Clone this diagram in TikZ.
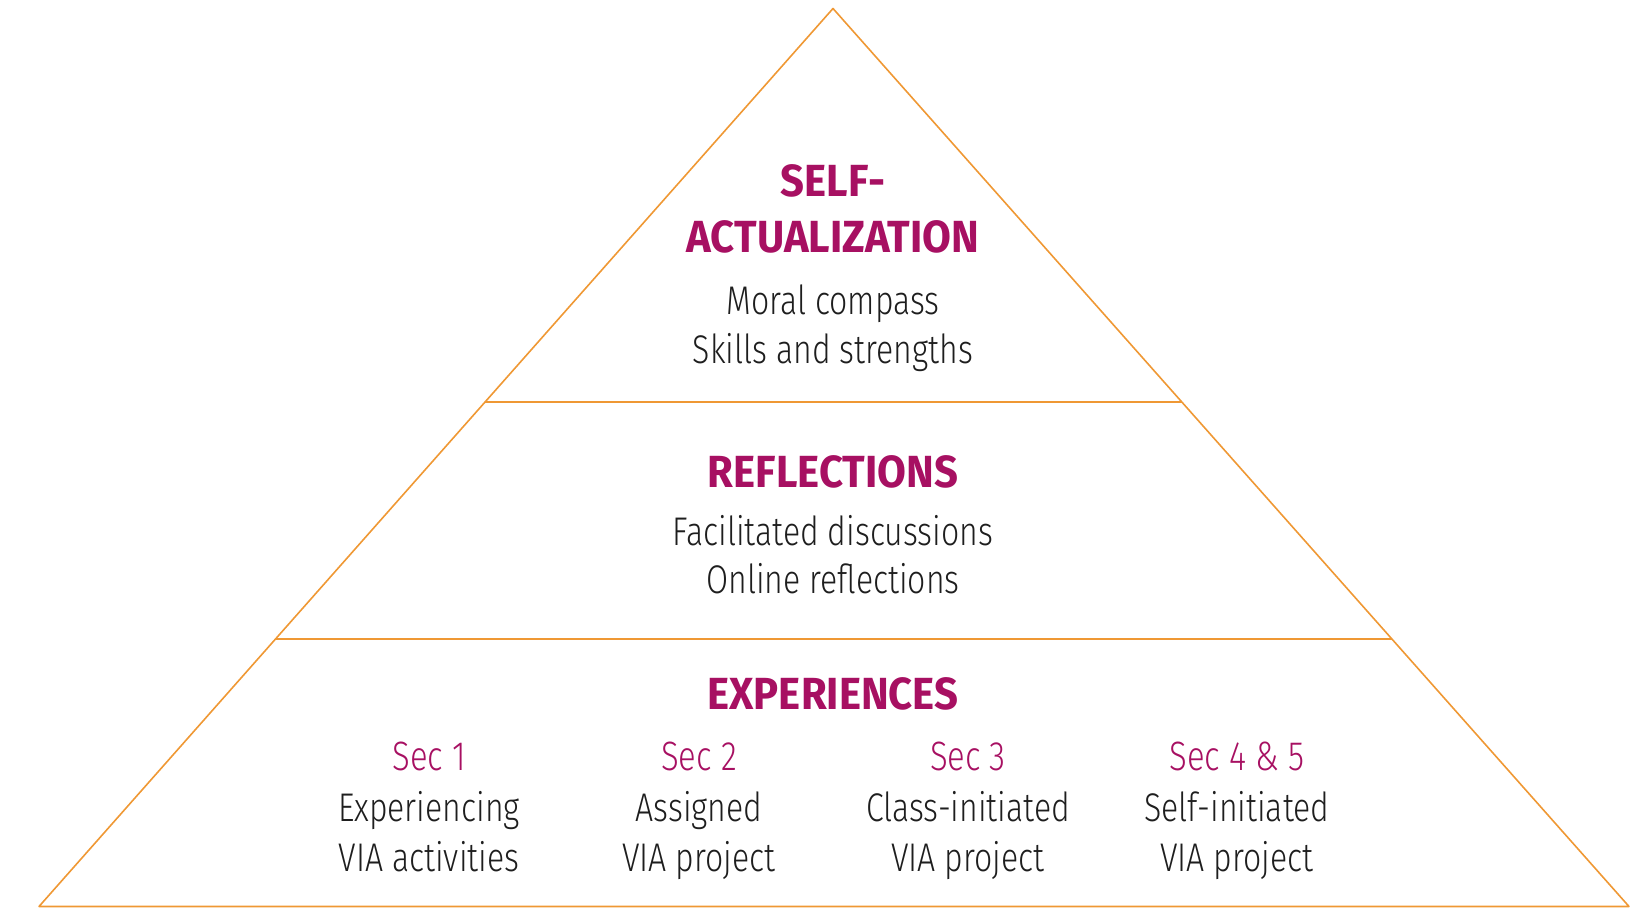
\documentclass[tikz,border=0pt]{standalone}
\usepackage{fontspec}
\setmainfont{Fira Sans}[FakeStretch=0.8, UprightFont=* Light]
\newfontfamily\headfont{Fira Sans}[FakeStretch=0.93]
\usetikzlibrary{calc}

\definecolor{pyrorange}{RGB}{239,152,52}
\definecolor{pyrmagenta}{RGB}{167,16,98}
\definecolor{pyrtext}{RGB}{30,30,30}

\tikzset{
	pyramid/.style = {
		x = 1pt,
		y = -1pt,
		edge/.style = {
			draw = pyrorange,
			line width = 1.6pt,
			line join = round,
		}
	},
	levelname/.style = {
		anchor = base,
		inner sep = 0pt,
		text = pyrmagenta,
		font = \headfont\bfseries\fontsize{45}{54}\selectfont
	},
	secname/.style = {
		anchor = base,
		inner sep = 0pt,
		text = pyrmagenta,
		font = \fontsize{41}{50}\selectfont
	},
	detail/.style = {
		anchor = base,
		inner sep = 0pt,
		text = pyrtext,
		font = \fontsize{40}{50}\selectfont
	}
}

\begin{document}
\begin{tikzpicture}[pyramid]
	\useasboundingbox (0,0) rectangle (1631,909);

	% outline and the two dividers
	\coordinate (top) at (833,8.5);
	\coordinate (bl) at (39,906.5);
	\coordinate (br) at (1629,906.5);
	\coordinate (upperL) at ($(top)!0.4379!(bl)$);
	\coordinate (upperR) at ($(top)!0.4379!(br)$);
	\coordinate (lowerL) at ($(top)!0.7024!(bl)$);
	\coordinate (lowerR) at ($(top)!0.7024!(br)$);

	\path[edge] (top) -- (bl) -- (br) -- cycle;
	\path[edge] (upperL) -- (upperR);
	\path[edge] (lowerL) -- (lowerR);

	% top level
	\node[levelname] (self) at (833,197) {SELF-};
	\node[levelname] (actual) at (833,253) {ACTUALIZATION};
	\node[detail] (moral) at (833,315) {Moral compass};
	\node[detail] (skills) at (833,363) {Skills and strengths};

	% middle level
	\node[levelname] (refl) at (833,487) {REFLECTIONS};
	\node[detail] (facil) at (833,545) {Facilitated discussions};
	\node[detail] (online) at (833,593.5) {Online reflections};

	% bottom level
	\node[levelname] (exper) at (833,709.5) {EXPERIENCES};

	\node[secname] (sec1) at (429,770.5) {Sec 1};
	\node[detail] (sec1a) at (429,821.5) {Experiencing};
	\node[detail] (sec1b) at (429,871.5) {VIA activities};

	\node[secname] (sec2) at (699,770.5) {Sec 2};
	\node[detail] (sec2a) at (699,821.5) {Assigned};
	\node[detail] (sec2b) at (699,871.5) {VIA project};

	\node[secname] (sec3) at (968,770.5) {Sec 3};
	\node[detail] (sec3a) at (968,821.5) {Class-initiated};
	\node[detail] (sec3b) at (968,871.5) {VIA project};

	\node[secname] (sec45) at (1237,770.5) {Sec 4 \& 5};
	\node[detail] (sec45a) at (1237,821.5) {Self-initiated};
	\node[detail] (sec45b) at (1237,871.5) {VIA project};
\end{tikzpicture}
\end{document}
